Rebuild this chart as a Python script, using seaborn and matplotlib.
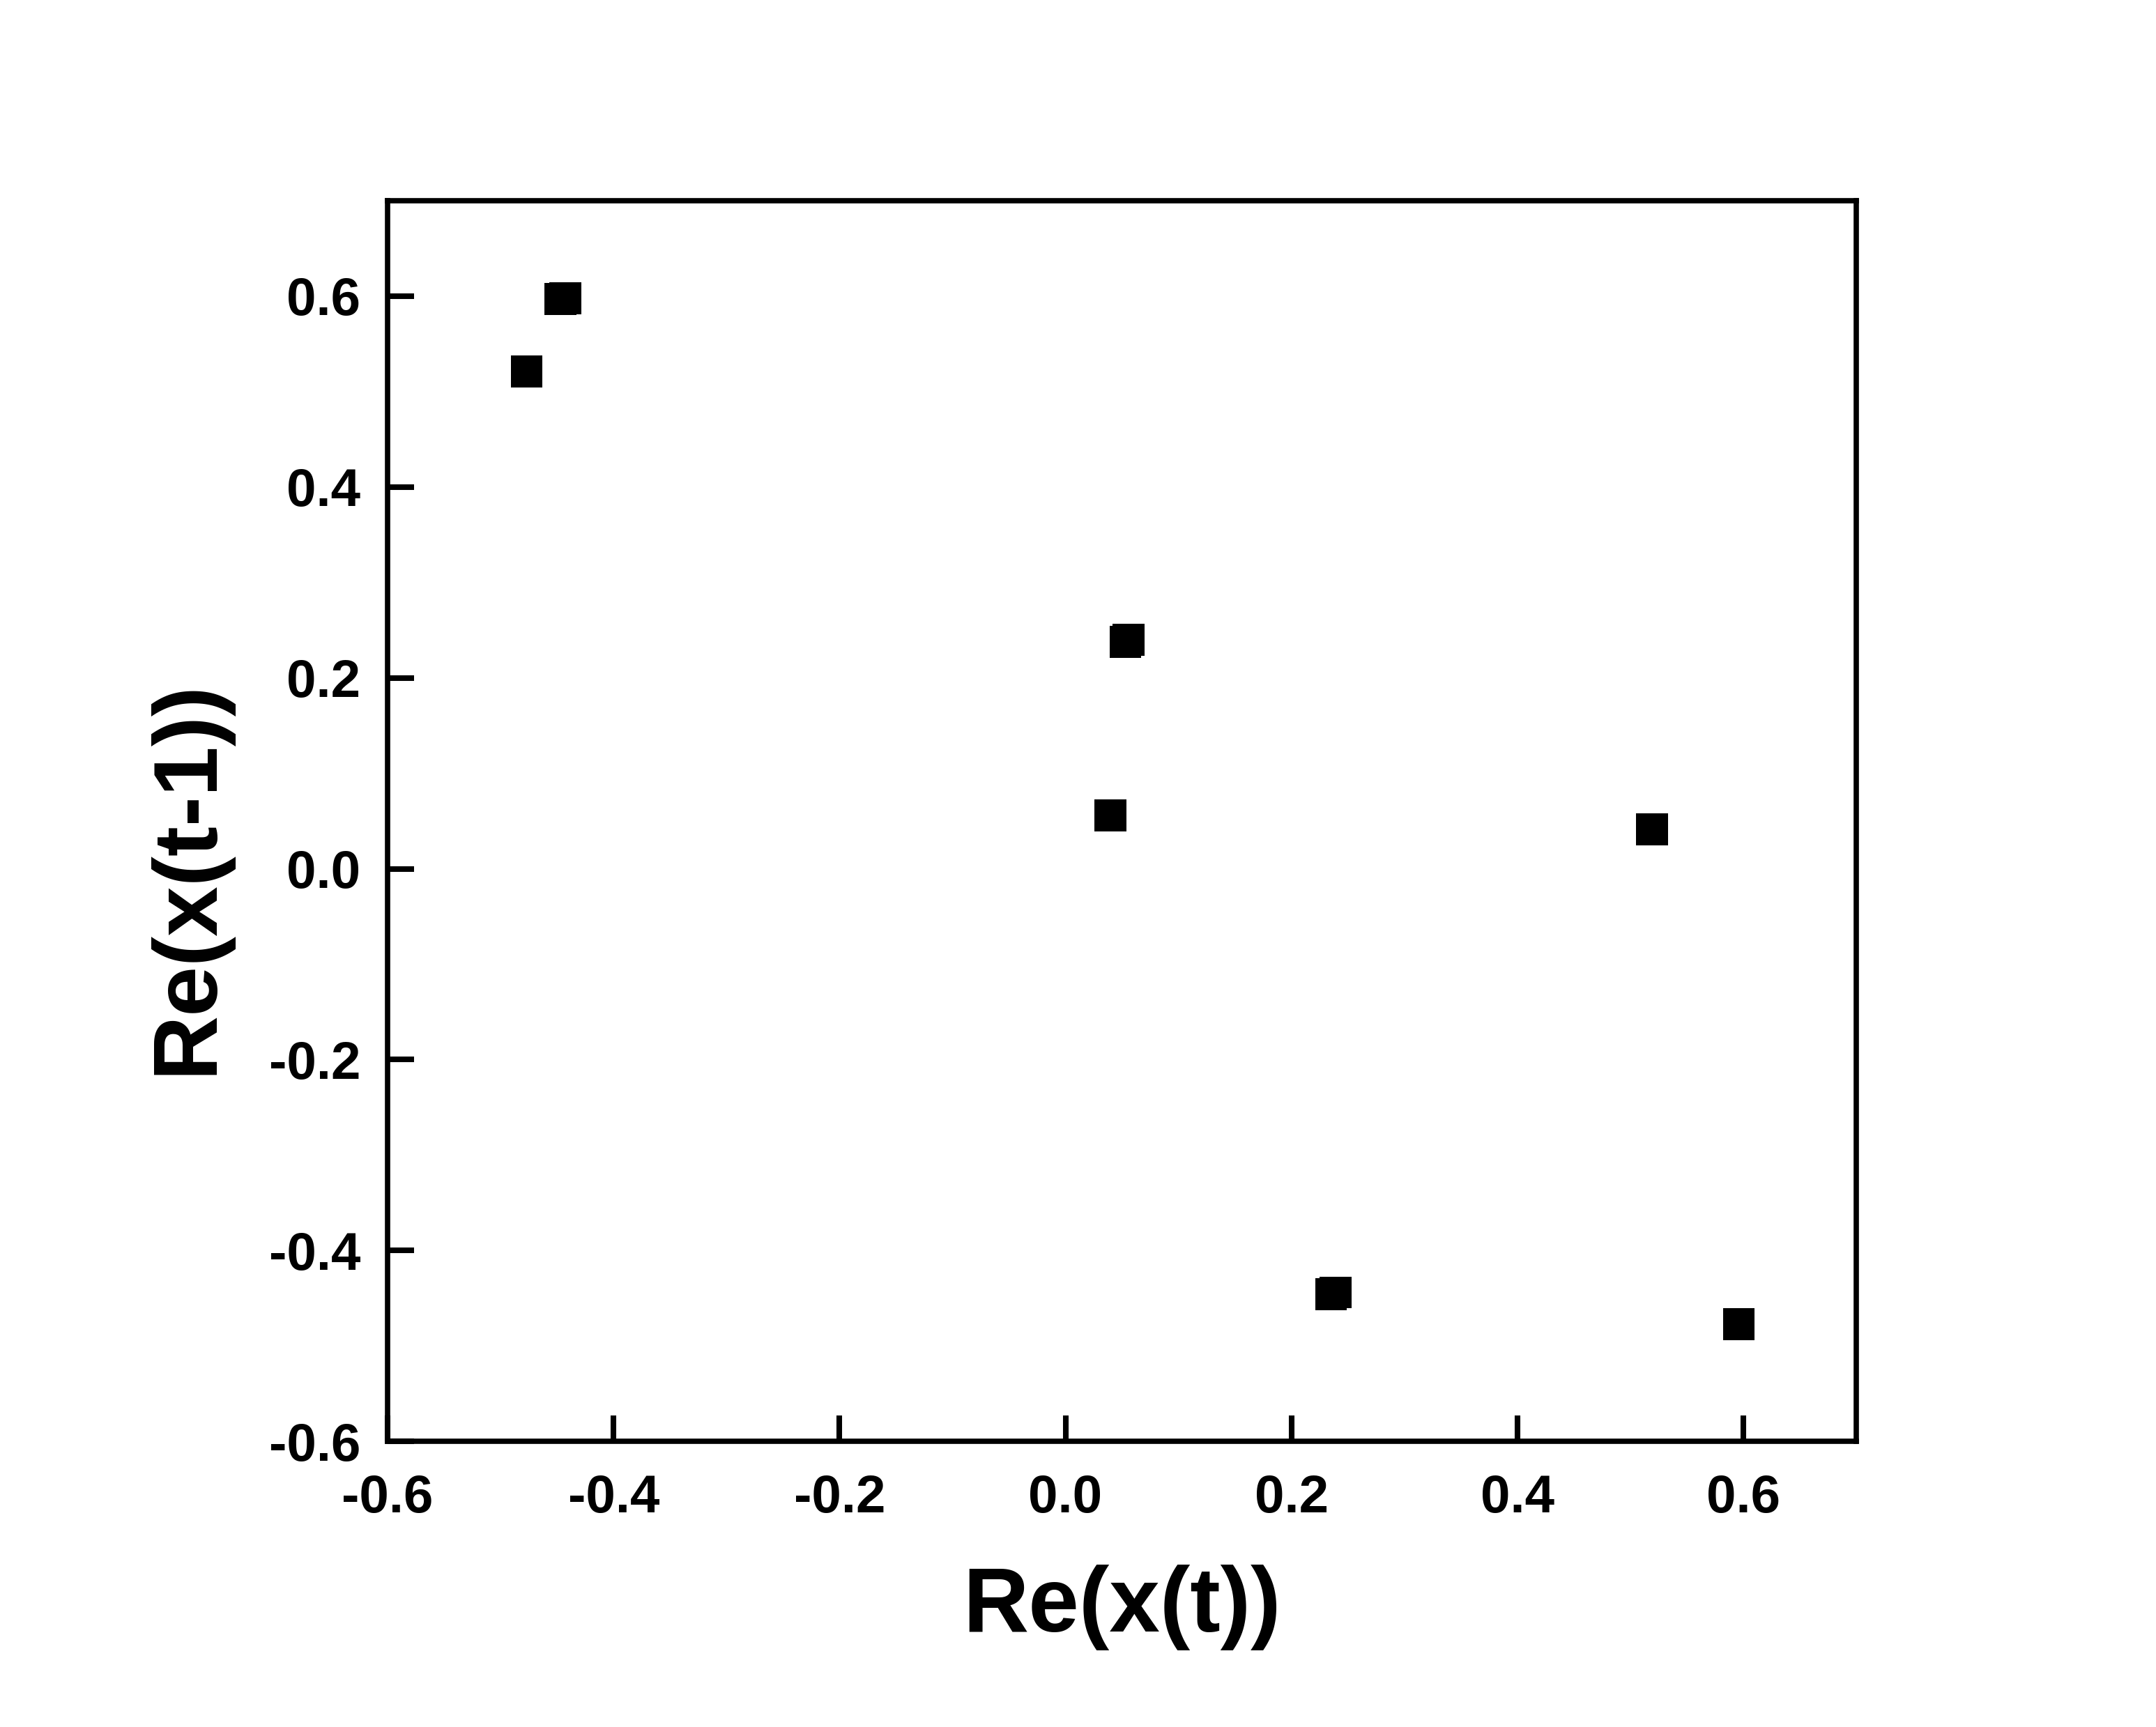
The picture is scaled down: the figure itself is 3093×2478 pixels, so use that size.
import numpy as np
import pandas as pd
import matplotlib
matplotlib.use("Agg")
import matplotlib.pyplot as plt
import seaborn as sns

# Werte
re_xt = [-0.477, -0.447, -0.443, 0.053, 0.056, 0.040, 0.519, 0.235, 0.239, 0.596]
re_xt1 = [0.521, 0.597, 0.598, 0.238, 0.240, 0.056, 0.041, -0.446, -0.444, -0.477]

df = pd.DataFrame({"Re(x(t))": re_xt, "Re(x(t-1))": re_xt1})

sns.set_style("ticks")
plt.rcParams['font.family'] = ['Liberation Sans', 'DejaVu Sans']
plt.rcParams['font.weight'] = 'bold'
plt.rcParams['text.color'] = 'black'
plt.rcParams['axes.labelcolor'] = 'black'
plt.rcParams['xtick.color'] = 'black'
plt.rcParams['ytick.color'] = 'black'

fig = plt.figure(figsize=(30.93, 24.78), dpi=100)
ax = fig.add_axes([0.1798, 0.1654, 0.861 - 0.1798, 0.8838 - 0.1654])

sns.scatterplot(data=df, x="Re(x(t))", y="Re(x(t-1))", ax=ax, marker='s',
                s=1090, color='black', linewidth=0, edgecolor='none')

ax.set_xlim(-0.6, 0.7)
ax.set_ylim(-0.6, 0.7)
ax.set_xticks(np.arange(-0.6, 0.61, 0.2))
ax.set_yticks(np.arange(-0.6, 0.61, 0.2))
ax.set_xticklabels(['-0.6', '-0.4', '-0.2', '0.0', '0.2', '0.4', '0.6'])
ax.set_yticklabels(['-0.6', '-0.4', '-0.2', '0.0', '0.2', '0.4', '0.6'])

for sp in ax.spines.values():
    sp.set_visible(True)
    sp.set_linewidth(5.5)
    sp.set_color('black')

ax.tick_params(axis='both', direction='in', length=27, width=5.8, color='black',
               labelcolor='black', labelsize=55, top=False, right=False)
ax.tick_params(axis='x', pad=34)
ax.tick_params(axis='y', pad=28)
for lab in ax.get_xticklabels() + ax.get_yticklabels():
    lab.set_fontweight('bold')

ax.set_xlabel('Re(x(t))', fontsize=94, fontweight='bold', color='black', labelpad=42)
ax.set_ylabel('Re(x(t-1))', fontsize=93, fontweight='bold', color='black')
ax.yaxis.set_label_coords(-0.107, 0.455)

fig.savefig('out.png', dpi=100, facecolor='white')
